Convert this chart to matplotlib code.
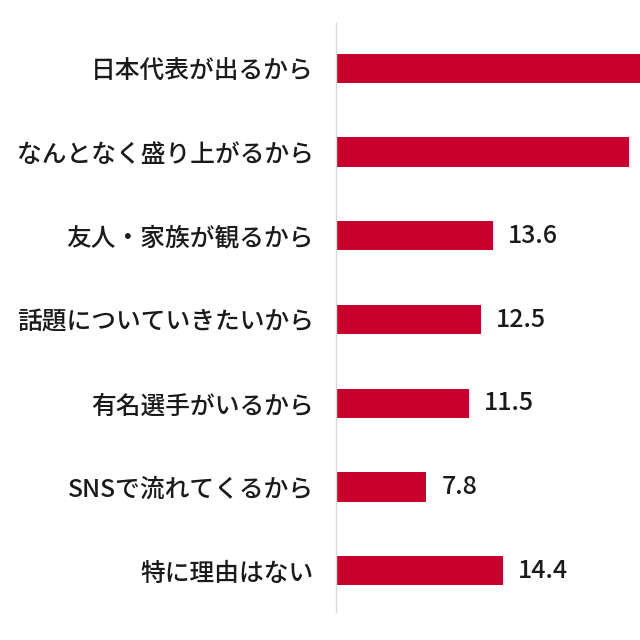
import matplotlib
matplotlib.use("Agg")
import matplotlib.pyplot as plt

plt.rcParams['font.family'] = ['Noto Sans CJK JP', 'DejaVu Sans']

# reasons (top to bottom) and share in %
labels = [
    "日本代表が出るから",
    "なんとなく盛り上がるから",
    "友人・家族が観るから",
    "話題についていきたいから",
    "有名選手がいるから",
    "SNSで流れてくるから",
    "特に理由はない",
]
# first two bars run past the right edge of the crop; values estimated
values = [30.0, 25.3, 13.6, 12.5, 11.5, 7.8, 14.4]

bar_color = "#C9002E"

fig = plt.figure(figsize=(6.4, 6.4), dpi=100)
ax = fig.add_axes([0.525, 0.044, 0.475, 0.92])

y = list(range(len(labels)))
ax.barh(y, values, height=0.35, color=bar_color)

for yi, v in zip(y, values):
    ax.text(v + 1.3, yi, f"{v:.1f}", va="center", ha="left",
            fontsize=18, fontweight="medium", color="#1a1a1a", clip_on=True)

ax.set_xlim(0, 26.28)
ax.set_ylim(6.49, -0.54)
ax.set_yticks(y)
ax.set_yticklabels(labels, fontsize=17.8, fontweight="medium", color="#1a1a1a")
ax.tick_params(axis="y", length=0, pad=16)
ax.set_xticks([])

for s in ["top", "right", "bottom"]:
    ax.spines[s].set_visible(False)
ax.spines["left"].set_color("#d9d9d9")
ax.spines["left"].set_linewidth(1.0)

fig.savefig("out.png", dpi=100)
